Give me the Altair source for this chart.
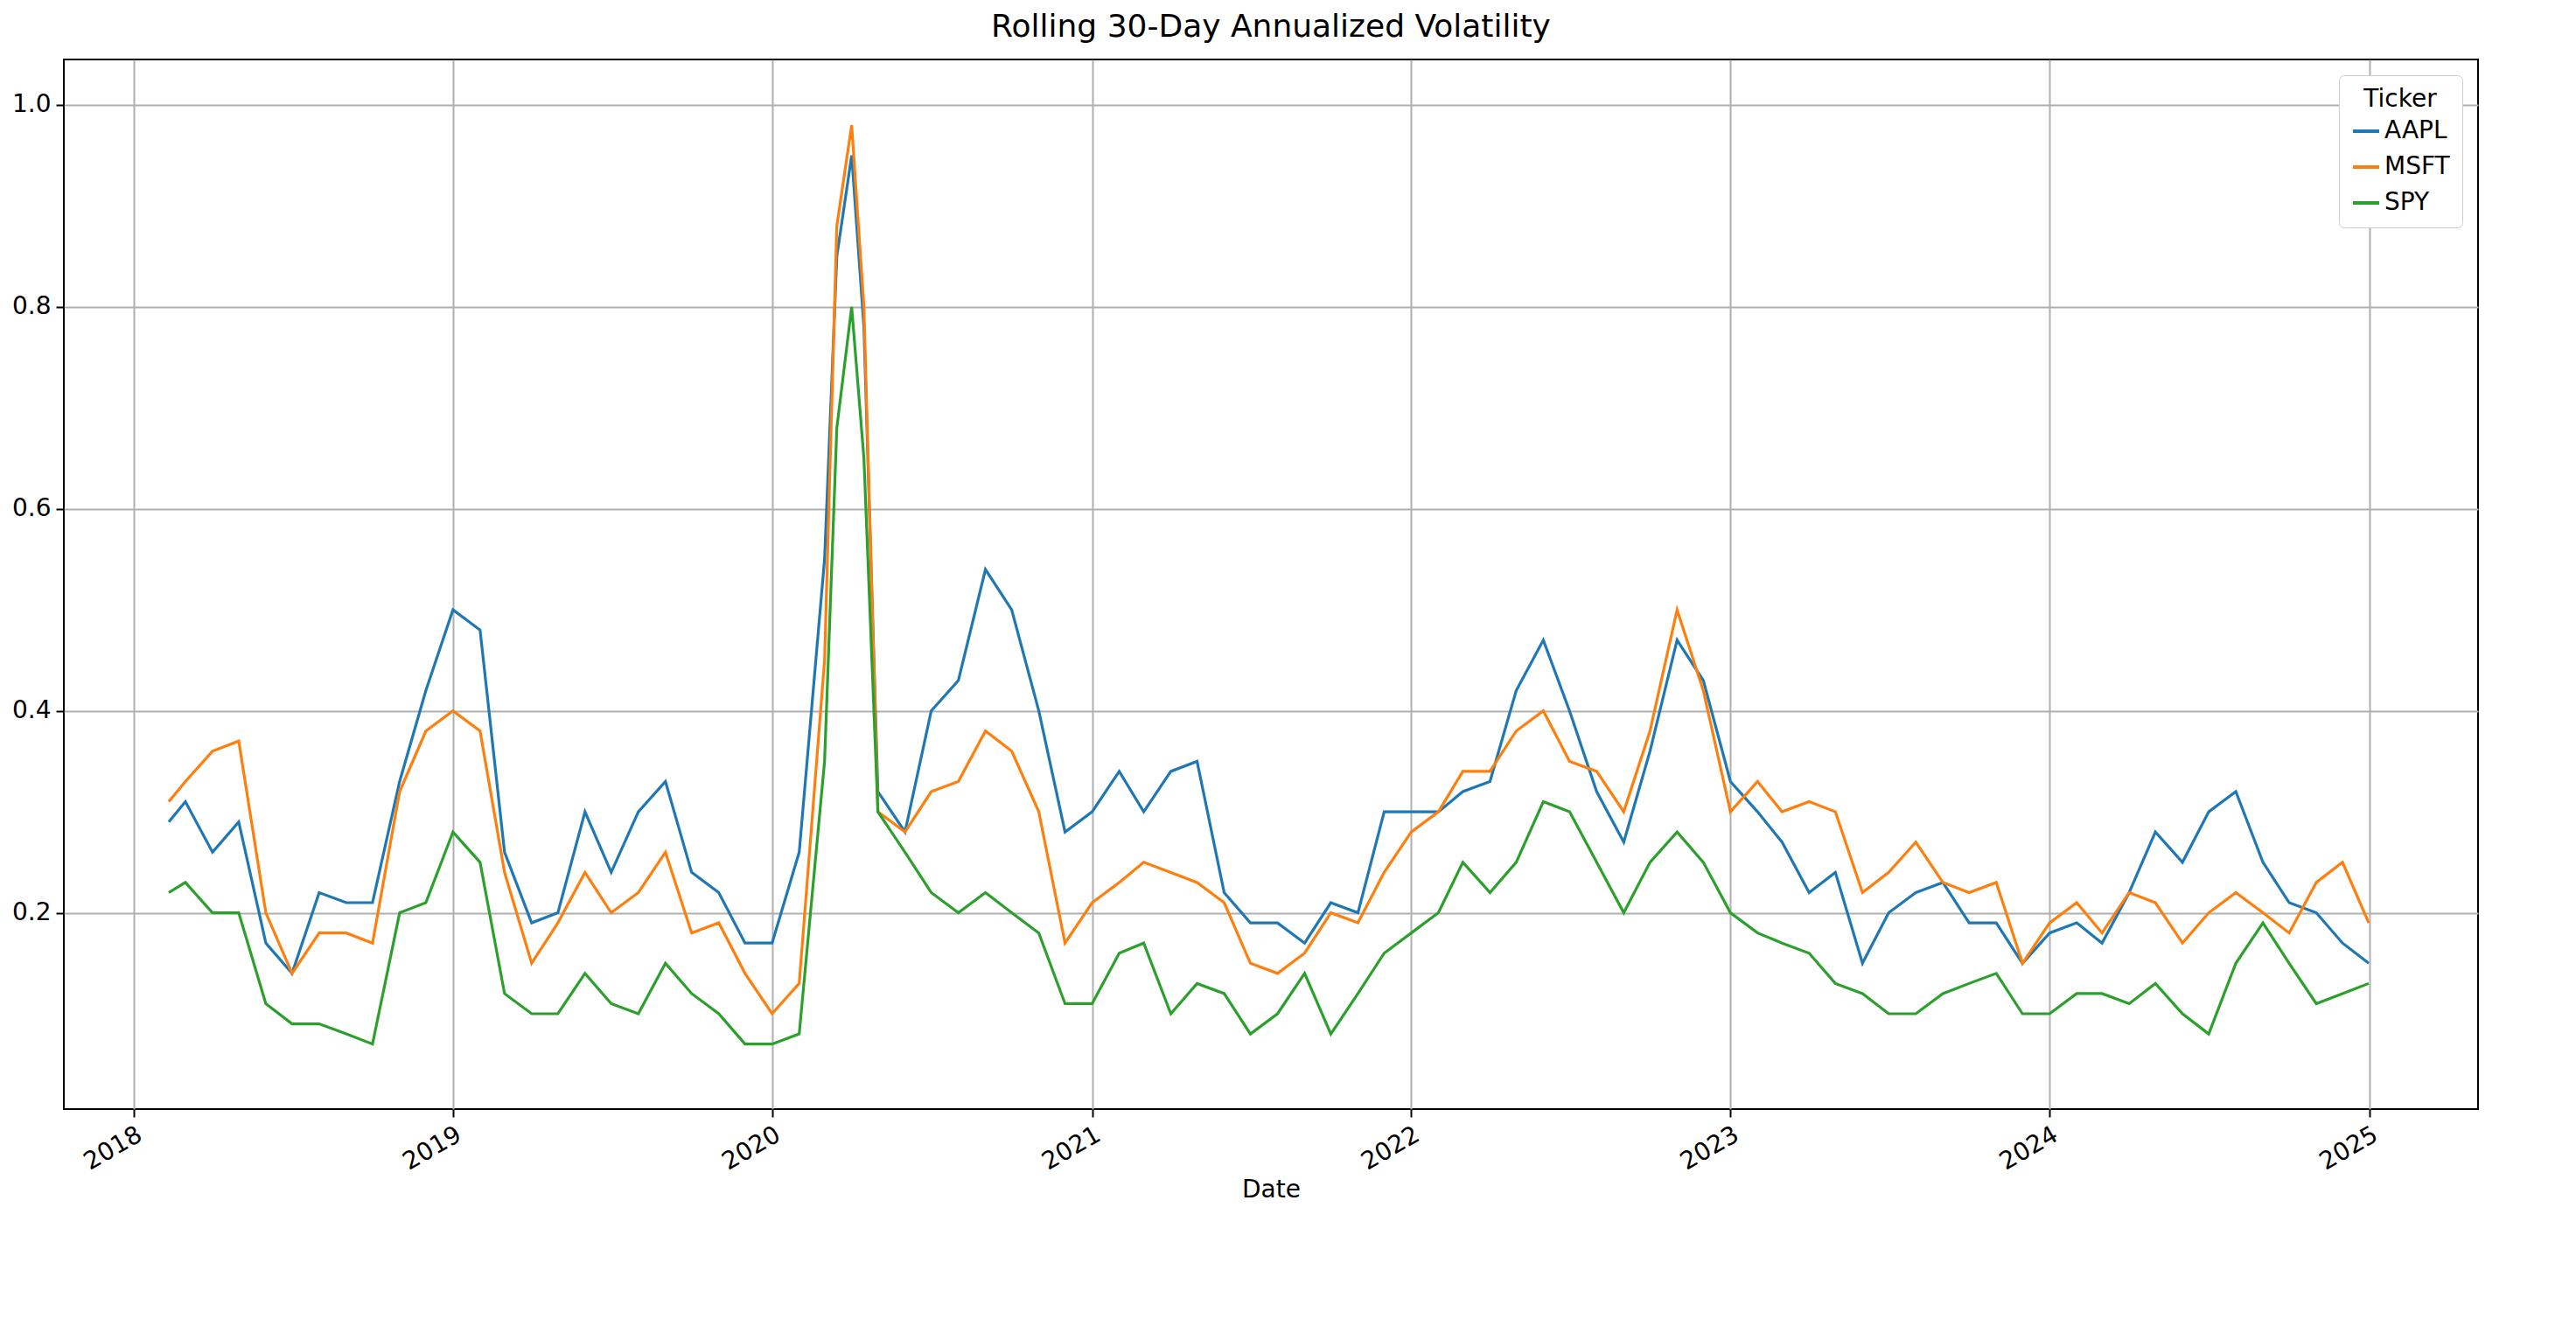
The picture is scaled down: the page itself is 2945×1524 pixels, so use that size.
import altair as alt
import pandas as pd

dates = ["2018-02-10"] + [f"2018-{m:02d}-01" for m in range(3, 13)] \
    + [f"2019-{m:02d}-01" for m in range(1, 13)] \
    + ["2020-01-01", "2020-02-01", "2020-03-01", "2020-03-15", "2020-04-01", "2020-04-15"] \
    + [f"2020-{m:02d}-01" for m in range(5, 13)] \
    + [f"{y}-{m:02d}-01" for y in (2021, 2022, 2023, 2024) for m in range(1, 13)] \
    + ["2024-12-31"]

aapl = [0.29, 0.31, 0.26, 0.29, 0.17, 0.14, 0.22, 0.21, 0.21, 0.33, 0.42,
        0.50, 0.48, 0.26, 0.19, 0.20, 0.30, 0.24, 0.30, 0.33, 0.24, 0.22, 0.17,
        0.17, 0.26, 0.55, 0.85, 0.95, 0.78, 0.32, 0.28, 0.40, 0.43, 0.54, 0.50, 0.40, 0.28,
        0.30, 0.34, 0.30, 0.34, 0.35, 0.22, 0.19, 0.19, 0.17, 0.21, 0.20, 0.30,
        0.30, 0.30, 0.32, 0.33, 0.42, 0.47, 0.40, 0.32, 0.27, 0.36, 0.47, 0.43,
        0.33, 0.30, 0.27, 0.22, 0.24, 0.15, 0.20, 0.22, 0.23, 0.19, 0.19, 0.15,
        0.18, 0.19, 0.17, 0.22, 0.28, 0.25, 0.30, 0.32, 0.25, 0.21, 0.20, 0.17, 0.15]
msft = [0.31, 0.33, 0.36, 0.37, 0.20, 0.14, 0.18, 0.18, 0.17, 0.32, 0.38,
        0.40, 0.38, 0.24, 0.15, 0.19, 0.24, 0.20, 0.22, 0.26, 0.18, 0.19, 0.14,
        0.10, 0.13, 0.45, 0.88, 0.98, 0.80, 0.30, 0.28, 0.32, 0.33, 0.38, 0.36, 0.30, 0.17,
        0.21, 0.23, 0.25, 0.24, 0.23, 0.21, 0.15, 0.14, 0.16, 0.20, 0.19, 0.24,
        0.28, 0.30, 0.34, 0.34, 0.38, 0.40, 0.35, 0.34, 0.30, 0.38, 0.50, 0.42,
        0.30, 0.33, 0.30, 0.31, 0.30, 0.22, 0.24, 0.27, 0.23, 0.22, 0.23, 0.15,
        0.19, 0.21, 0.18, 0.22, 0.21, 0.17, 0.20, 0.22, 0.20, 0.18, 0.23, 0.25, 0.19]
spy = [0.22, 0.23, 0.20, 0.20, 0.11, 0.09, 0.09, 0.08, 0.07, 0.20, 0.21,
       0.28, 0.25, 0.12, 0.10, 0.10, 0.14, 0.11, 0.10, 0.15, 0.12, 0.10, 0.07,
       0.07, 0.08, 0.35, 0.68, 0.80, 0.65, 0.30, 0.26, 0.22, 0.20, 0.22, 0.20, 0.18, 0.11,
       0.11, 0.16, 0.17, 0.10, 0.13, 0.12, 0.08, 0.10, 0.14, 0.08, 0.12, 0.16,
       0.18, 0.20, 0.25, 0.22, 0.25, 0.31, 0.30, 0.25, 0.20, 0.25, 0.28, 0.25,
       0.20, 0.18, 0.17, 0.16, 0.13, 0.12, 0.10, 0.10, 0.12, 0.13, 0.14, 0.10,
       0.10, 0.12, 0.12, 0.11, 0.13, 0.10, 0.08, 0.15, 0.19, 0.15, 0.11, 0.12, 0.13]

tickers = ["AAPL", "MSFT", "SPY"]
colors = ["#1f77b4", "#ff7f0e", "#2ca02c"]
years = list(range(2018, 2026))

rows = []
for t, vals in zip(tickers, [aapl, msft, spy]):
    for d, v in zip(dates, vals):
        rows.append({"Date": d, "Ticker": t, "Vol": v})
df = pd.DataFrame(rows)

F = "DejaVu Sans"
chart = alt.Chart(df).mark_line(strokeWidth=3.2).encode(
    x=alt.X("Date:T", title="Date",
            scale=alt.Scale(domain=["2017-10-13", "2025-05-05"]),
            axis=alt.Axis(values=[alt.DateTime(year=y, month=1, date=1) for y in years],
                          format="%Y", labelAngle=330, labelAlign="right",
                          labelBaseline="top")),
    y=alt.Y("Vol:Q", title=None, scale=alt.Scale(domain=[0.0056, 1.045], nice=False),
            axis=alt.Axis(values=[0.2, 0.4, 0.6, 0.8, 1.0], format=".1f")),
    color=alt.Color("Ticker:N", scale=alt.Scale(domain=tickers, range=colors),
                    legend=alt.Legend(title="Ticker", orient="top-right", symbolType="stroke",
                                      symbolStrokeWidth=4, symbolSize=900,
                                      fillColor="white", strokeColor="#cccccc",
                                      padding=14, cornerRadius=6, offset=18,
                                      titleAlign="center", titleAnchor="middle")),
).properties(
    width=2760, height=1200, background="white",
    title=alt.TitleParams("Rolling 30-Day Annualized Volatility", fontSize=36,
                          font=F, fontWeight="normal", offset=18),
).configure_view(stroke="black", strokeWidth=2).configure_axis(
    labelFont=F, titleFont=F, labelFontSize=28, titleFontSize=28, titleFontWeight="normal",
    labelColor="black", titleColor="black",
    grid=True, gridColor="#b0b0b0", gridWidth=2, domain=False,
    tickColor="black", tickSize=9, tickWidth=2, labelPadding=6,
).configure_legend(labelFont=F, titleFont=F, labelFontSize=28, titleFontSize=28,
                   titleFontWeight="normal", labelColor="black", titleColor="black",
                   rowPadding=10)

chart.save("out.html", embed_options={"renderer": "svg", "actions": False})
